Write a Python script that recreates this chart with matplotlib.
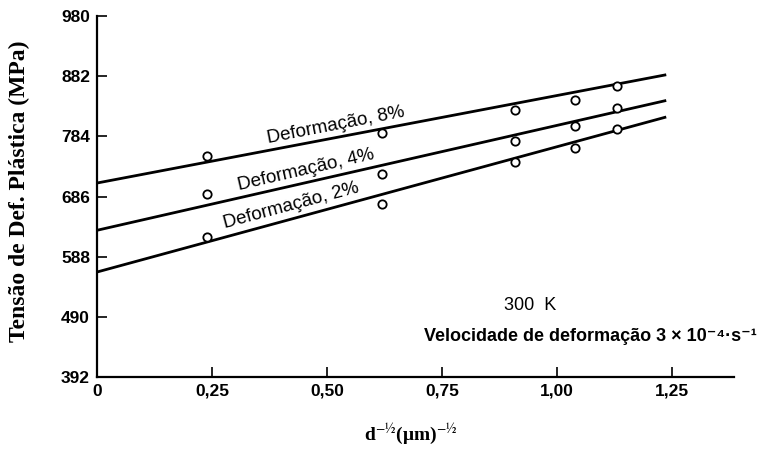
import matplotlib.pyplot as plt

plt.rcParams['font.family'] = ['Liberation Sans', 'DejaVu Sans']
plt.rcParams['mathtext.fontset'] = 'stix'

# measured points (d^-1/2 in um^-1/2, stress in MPa)
pts_x = [0.24, 0.62, 0.91, 1.04, 1.13]
pts_8 = [752, 789, 827, 843, 866]
pts_4 = [690, 722, 776, 801, 830]
pts_2 = [620, 674, 742, 765, 796]

# fitted lines (start / end)
fit_x = [0.0, 1.235]
fit_8 = [708, 884]
fit_4 = [631, 842]
fit_2 = [563, 815]

yticks = [392, 490, 588, 686, 784, 882, 980]
xticks = [0, 0.25, 0.50, 0.75, 1.00, 1.25]
xtick_labels = ['0', '0,25', '0,50', '0,75', '1,00', '1,25']

fig = plt.figure(figsize=(7.6, 4.54), dpi=100)
ax = fig.add_axes([0.1276, 0.1696, 0.838, 0.795])

for fy, py in [(fit_8, pts_8), (fit_4, pts_4), (fit_2, pts_2)]:
    ax.plot(fit_x, fy, color='black', lw=2.0, zorder=2)
    ax.plot(pts_x, py, 'o', ms=6, mfc='white', mec='black', mew=1.3, zorder=3)

ax.set_xlim(0, 1.385)
ax.set_ylim(392, 980)
ax.set_xticks(xticks)
ax.set_xticklabels(xtick_labels)
ax.set_yticks(yticks)
ax.tick_params(direction='in', length=7, width=1.2, labelsize=12.5, pad=5)
for lab in ax.get_xticklabels() + ax.get_yticklabels():
    lab.set_fontweight('bold')
ax.spines['top'].set_visible(False)
ax.spines['right'].set_visible(False)
ax.spines['left'].set_linewidth(1.6)
ax.spines['bottom'].set_linewidth(1.6)

# line labels
lab_kw = dict(fontsize=13.5, ha='center', va='center', rotation_mode='anchor')
ax.text(0.52, 802, 'Deformação, 8%', rotation=11, **lab_kw)
ax.text(0.455, 730, 'Deformação, 4%', rotation=13, **lab_kw)
ax.text(0.423, 671, 'Deformação, 2%', rotation=15, **lab_kw)

ax.text(0.943, 509, '300  K', fontsize=13, ha='center', va='center')
fig.text(0.996, 0.258, 'Velocidade de deformação 3 × 10⁻⁴·s⁻¹',
         fontsize=13, fontweight='bold', ha='right', va='center')

ax.set_ylabel('Tensão de Def. Plástica (MPa)', family='Liberation Serif',
              fontweight='bold', fontsize=17)
ax.yaxis.set_label_coords(-0.105, 0.515)
fig.text(0.54, 0.042, 'd$^{-½}$(μm)$^{-½}$', family='Liberation Serif',
         fontweight='bold', fontsize=14, ha='center', va='center')

fig.savefig('out.png', dpi=100, facecolor='white')
